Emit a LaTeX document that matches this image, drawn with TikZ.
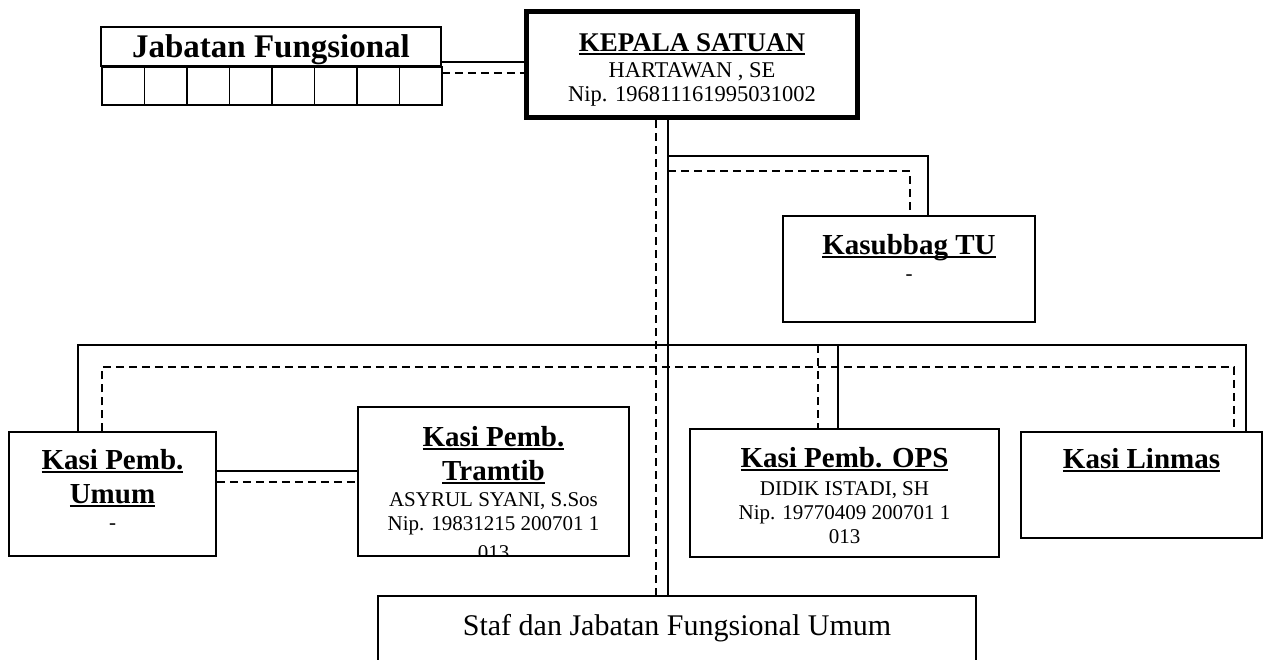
\documentclass[tikz,border=0pt]{standalone}
\usepackage{fontspec}
\setmainfont{Liberation Serif}
\usepackage{tikz}

\tikzset{
	kotak/.style={draw, line width=1.5pt, inner sep=0pt},
	isi/.style={align=center, inner sep=0pt, font=\fontsize{21}{24}\selectfont},
	garis/.style={line width=1.5pt},
	putus/.style={garis, dash pattern=on 8pt off 5pt},
}

% bold, underlined title line
\newcommand{\judul}[2][29]{{\fontsize{#1}{#1}\selectfont\bfseries
	\setbox0\hbox{#2}\rlap{\rule[-3.5pt]{\wd0}{1.6pt}}\box0}}

\newcommand{\drawkotak}[8][]{% style, name, x, y, width, height, text offset, text
	\node[kotak, #1, minimum width=#5, minimum height=#6] (#2) at (#3, #4) {};
	\begin{scope}
		\clip (#2.south west) rectangle (#2.north east);
		\node[isi, anchor=north] (#2-isi) at ([yshift=-#7]#2.north) {#8};
	\end{scope}
}

\begin{document}
\begin{tikzpicture}[x=1pt, y=-1pt]
\useasboundingbox (0, 0) rectangle (1265, 659);

% jabatan fungsional
\node[kotak, minimum width=340, minimum height=39, text depth=0pt,
	font=\fontsize{33}{36}\selectfont\bfseries] (jf) at (271, 46.5) {Jabatan Fungsional};
\foreach \i in {1, ..., 8}
{
	\node[kotak, minimum width=42.5, minimum height=38, anchor=north west]
		(sel\i) at ({101 + (\i - 1) * 42.5}, 66) {};
}

\drawkotak[line width=5pt]{kepala}{692}{64.5}{331}{106}{24.5}{%
	\judul[27]{KEPALA SATUAN}\\[2pt]
	\fontsize{22.5}{25}\selectfont HARTAWAN , SE\\
	\fontsize{22.5}{25}\selectfont Nip. 196811161995031002};

\drawkotak{tu}{909}{269}{252}{106}{19}{\judul{Kasubbag TU}\\[2pt] -};

\drawkotak{umum}{112.5}{494}{207}{124}{18}{\judul{Kasi Pemb.}\\[10pt]\judul{Umum}\\[2pt] -};
\drawkotak{tramtib}{493.5}{481.5}{271}{149}{20}{%
	\judul{Kasi Pemb.}\\[10pt]\judul{Tramtib}\\[2pt]
	ASYRUL SYANI, S.Sos\\ Nip. 19831215 200701 1\\[5pt] 013};
\drawkotak{ops}{844.5}{493}{309}{128}{19}{%
	\judul{Kasi Pemb. OPS}\\[4pt]
	DIDIK ISTADI, SH\\ Nip. 19770409 200701 1\\ 013};
\drawkotak{linmas}{1141.5}{485}{241}{106}{17}{\judul{Kasi Linmas}};

\drawkotak{staf}{677}{638}{598}{84}{18.5}{%
	\fontsize{30}{34}\selectfont Staf dan Jabatan Fungsional Umum};

% garis komando (solid) dan koordinasi (dashed)
\coordinate (jfS) at (0, 62);
\coordinate (jfD) at (0, 73);
\draw[garis] (jf.east |- jfS) -- (kepala.west |- jfS);
\draw[putus] (jf.east |- jfD) -- (kepala.west |- jfD);

\coordinate (pusatS) at (668, 0);
\coordinate (pusatD) at (656, 0);
\draw[garis] (kepala.south -| pusatS) -- (staf.north -| pusatS);
\draw[putus] (kepala.south -| pusatD) -- (staf.north -| pusatD);

\coordinate (tuS) at (928, 156);
\coordinate (tuD) at (910, 171);
\draw[garis] (pusatS |- tuS) -- (tuS) -- (tu.north -| tuS);
\draw[putus] (pusatS |- tuD) -- (tuD) -- (tu.north -| tuD);

\coordinate (kiriS) at (78, 345);
\coordinate (kananS) at (1246, 345);
\coordinate (opsS) at (838, 345);
\draw[garis] (umum.north -| kiriS) -- (kiriS) -- (kananS) -- (linmas.north -| kananS);
\draw[garis] (opsS) -- (ops.north -| opsS);

\coordinate (kiriD) at (102, 367);
\coordinate (kananD) at (1234, 367);
\coordinate (opsD) at (818, 345);
\draw[putus] (umum.north -| kiriD) -- (kiriD) -- (kananD) -- (linmas.north -| kananD);
\draw[putus] (opsD) -- (ops.north -| opsD);

\coordinate (sampingS) at (0, 471);
\coordinate (sampingD) at (0, 482);
\draw[garis] (umum.east |- sampingS) -- (tramtib.west |- sampingS);
\draw[putus] (umum.east |- sampingD) -- (tramtib.west |- sampingD);

\end{tikzpicture}
\end{document}
